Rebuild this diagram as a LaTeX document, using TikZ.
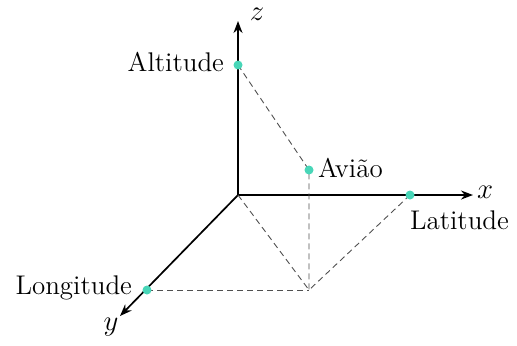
\documentclass[tikz,border=0pt]{standalone}
\usepackage{xcolor}
\usepackage{tikz}
\usetikzlibrary{arrows.meta}
\definecolor{dotteal}{RGB}{72,214,184}
\definecolor{guidegray}{RGB}{80,80,80}

\begin{document}
\begin{tikzpicture}[x=0.5pt,y=-0.5pt,
    font=\fontsize{13.5}{16}\selectfont,
    axis/.style={line width=0.85pt,-{Stealth[length=6pt,width=4.5pt]}},
    guide/.style={guidegray,line width=0.45pt,dash pattern=on 3pt off 2pt},
    dot/.style={circle,fill=dotteal,inner sep=0pt,minimum size=4.5pt}]
    \useasboundingbox (0,0) rectangle (517,345);

    % Points
    \coordinate (O) at (238,195);
    \coordinate (xend) at (473,195);
    \coordinate (zend) at (238,21);
    \coordinate (yend) at (120,316);
    \coordinate (P) at (309,290);
    \coordinate (alt) at (238,65);
    \coordinate (aviao) at (309,170);
    \coordinate (lat) at (410,195);
    \coordinate (long) at (147,290);

    % Axes
    \draw[axis] (O) -- (xend);
    \draw[axis] (O) -- (zend);
    \draw[axis] (O) -- (yend);

    % Projection lines
    \draw[guide] (alt) -- (aviao) -- (P);
    \draw[guide] (O) -- (P);
    \draw[guide] (lat) -- (P);
    \draw[guide] (long) -- (P);

    % Dots
    \foreach \pt in {alt,aviao,lat,long} {
        \node[dot] (dot-\pt) at (\pt) {};
    }

    % Labels
    \node (xlab) at (485,192) {$x$};
    \node (zlab) at (257,14) {$z$};
    \node (ylab) at (111,327) {$y$};
    \node[anchor=east] (altlab) at (231,62) {Altitude};
    \node[anchor=west] (aviaolab) at (311,168) {Avião};
    \node[anchor=west] (latlab) at (403,220) {Latitude};
    \node[anchor=east] (longlab) at (139,288) {Longitude};
\end{tikzpicture}
\end{document}
